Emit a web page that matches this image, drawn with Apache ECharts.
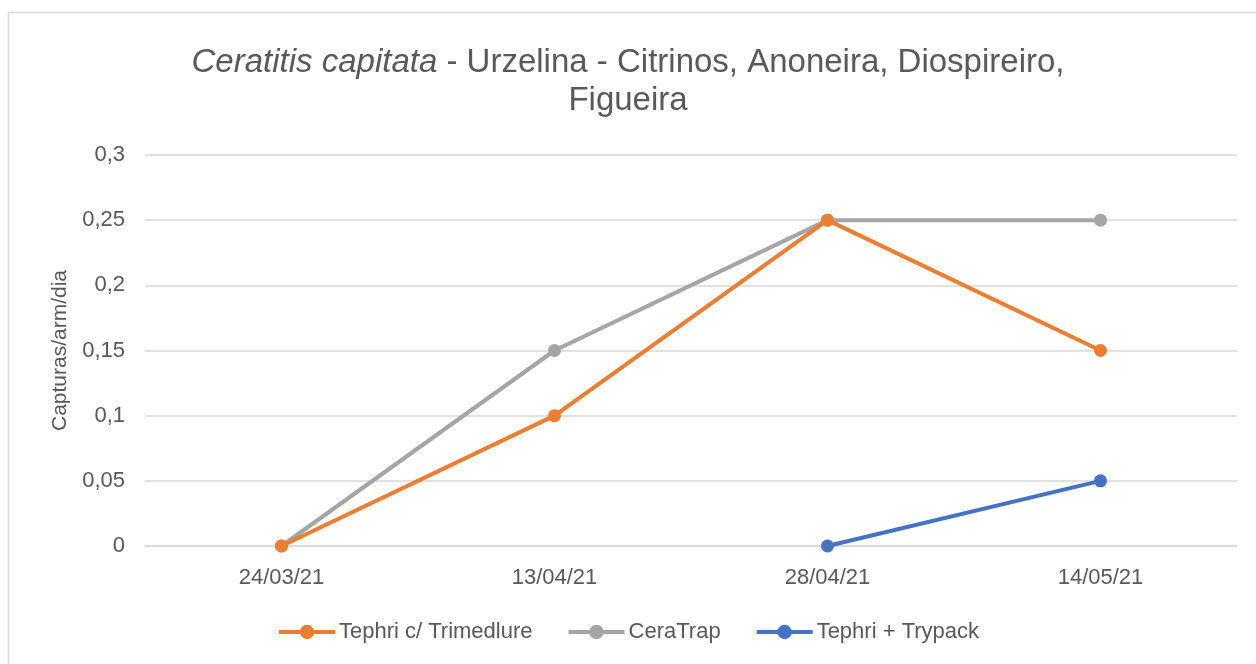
<!DOCTYPE html>
<html><head><meta charset="utf-8">
<script src="https://cdn.jsdelivr.net/npm/echarts@6/dist/echarts.min.js"></script>
<style>html,body{margin:0;padding:0;background:#fff}#c{width:1256px;height:664px}</style>
</head><body><div id="c"></div>
<script>
const categories = ['24/03/21', '13/04/21', '28/04/21', '14/05/21'];
const trimedlure = [0, 0.1, 0.25, 0.15];
const ceraTrap = [0, 0.15, 0.25, 0.25];
const trypack = [null, null, 0, 0.05];
const seriesNames = ['Tephri c/ Trimedlure', 'CeraTrap', 'Tephri + Trypack'];
const yTicks = [0, 0.05, 0.1, 0.15, 0.2, 0.25, 0.3];

const FONT = '"Liberation Sans", "DejaVu Sans", sans-serif';
const TXT = '#595959';
const chart = echarts.init(document.getElementById('c'), null, {renderer: 'canvas'});
const mk = (name, data, color, z) => ({
  name, type: 'line', data, z,
  connectNulls: false,
  symbol: 'circle', symbolSize: 13,
  lineStyle: {color, width: 4},
  itemStyle: {color},
  emphasis: {disabled: true}
});
chart.setOption({
  animation: false,
  backgroundColor: '#fff',
  graphic: [{type: 'rect', left: 6, top: 10, shape: {width: 1270, height: 680},
    style: {fill: 'none', stroke: '#D9D9D9', lineWidth: 1.5}, silent: true}],
  title: {
    text: '{i|Ceratitis capitata} - Urzelina - Citrinos, Anoneira, Diospireiro,\nFigueira',
    left: 'center', top: 39,
    textStyle: {
      fontFamily: FONT, fontSize: 33, color: TXT, fontWeight: 'normal', lineHeight: 38,
      rich: {i: {fontStyle: 'italic', fontFamily: FONT, fontSize: 33, color: TXT, lineHeight: 38}}
    }
  },
  grid: {left: 145, right: 19, top: 155, bottom: 118, containLabel: false},
  xAxis: {
    type: 'category', data: categories, boundaryGap: true,
    axisLine: {show: true, lineStyle: {color: '#D9D9D9', width: 1.5}},
    axisTick: {show: false},
    axisLabel: {fontFamily: FONT, fontSize: 22, color: TXT, margin: 21}
  },
  yAxis: {
    type: 'value', min: 0, max: 0.3, interval: 0.05,
    name: 'Capturas/arm/dia', nameLocation: 'middle', nameGap: 74,
    nameTextStyle: {fontFamily: FONT, fontSize: 21, color: TXT},
    axisLine: {show: false}, axisTick: {show: false},
    splitLine: {lineStyle: {color: '#D9D9D9', width: 1.5}},
    axisLabel: {fontFamily: FONT, fontSize: 22, color: TXT, margin: 20,
      formatter: v => {
        const t = yTicks.find(x => Math.abs(x - v) < 1e-9);
        return String(t !== undefined ? t : v).replace('.', ',');
      }}
  },
  legend: {
    bottom: 16, left: 'center', itemWidth: 56, itemHeight: 18, itemGap: 34,
    textStyle: {fontFamily: FONT, fontSize: 22, color: TXT, padding: [0, 0, 0, -1]},
    lineStyle: {width: 4},
    data: seriesNames
  },
  series: [
    mk(seriesNames[0], trimedlure, '#ED7D31', 3),
    mk(seriesNames[1], ceraTrap, '#A5A5A5', 2),
    mk(seriesNames[2], trypack, '#4472C4', 4)
  ]
});
</script></body></html>
